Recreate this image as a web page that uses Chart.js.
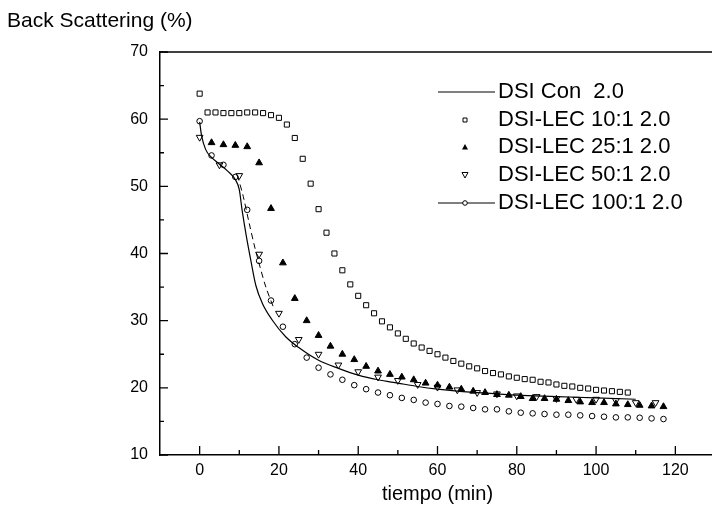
<!DOCTYPE html>
<html>
<head>
<meta charset="utf-8">
<script src="https://cdn.jsdelivr.net/npm/chart.js@4.4.0/dist/chart.umd.min.js"></script>
<style>
  html, body { margin: 0; padding: 0; background: #fff; overflow: hidden; width: 712px; height: 521px; }
  #wrap { position: relative; width: 720px; height: 521px; }
</style>
</head>
<body>
<div id="wrap"><canvas id="chart" width="720" height="521"></canvas></div>
<script>
// DSI Con 2.0 (solid curve)
const conTime = [0, 0.5, 1.5, 3, 5, 7, 9, 10, 10.7, 11.8, 12.9, 14.2, 15.8, 18.3, 21.7, 25, 30, 35, 40, 45, 50, 55, 60, 65, 70, 75, 80, 90, 100, 110];
const conValue = [59.6, 57.5, 55.5, 54.3, 53.3, 52.3, 51.0, 49.5, 46.5, 42.5, 39.0, 35.2, 32.6, 30.1, 27.6, 26.0, 24.1, 22.9, 21.9, 21.2, 20.7, 20.2, 19.8, 19.5, 19.3, 19.1, 18.9, 18.7, 18.5, 18.3];

// DSI-LEC 10:1 2.0
const lec10Time = [0, 2, 4, 6, 8, 10, 12, 14, 16, 18, 20, 22, 24, 26, 28, 30, 32, 34, 36, 38, 40, 42, 44, 46, 48, 50, 52, 54, 56, 58, 60, 62, 64, 66, 68, 70, 72, 74, 76, 78, 80, 82, 84, 86, 88, 90, 92, 94, 96, 98, 100, 102, 104, 106, 108];
const lec10Value = [63.8, 61.0, 61.0, 60.9, 60.9, 60.9, 61.0, 61.0, 60.9, 60.6, 60.2, 59.2, 57.2, 54.1, 50.4, 46.6, 43.1, 40.0, 37.5, 35.4, 33.7, 32.3, 31.1, 29.9, 29.0, 28.1, 27.3, 26.6, 26.0, 25.5, 25.0, 24.5, 24.0, 23.6, 23.2, 22.9, 22.5, 22.2, 22.0, 21.7, 21.5, 21.3, 21.2, 20.9, 20.8, 20.5, 20.3, 20.2, 20.0, 19.9, 19.7, 19.6, 19.5, 19.4, 19.3];

// DSI-LEC 25:1 2.0
const lec25Time = [3, 6, 9, 12, 15, 18, 21, 24, 27, 30, 33, 36, 39, 42, 45, 48, 51, 54, 57, 60, 63, 66, 69, 72, 75, 78, 81, 84, 87, 90, 93, 96, 99, 102, 105, 108, 111, 114, 117];
const lec25Value = [56.5, 56.2, 56.1, 55.9, 53.5, 46.7, 38.6, 33.3, 30.0, 27.8, 26.2, 25.0, 24.2, 23.2, 22.5, 22.0, 21.6, 21.2, 20.7, 20.4, 20.1, 19.8, 19.5, 19.3, 19.0, 18.9, 18.7, 18.4, 18.4, 18.3, 18.1, 17.9, 17.8, 17.8, 17.6, 17.5, 17.4, 17.3, 17.2];

// DSI-LEC 50:1 2.0
const lec50Time = [0, 5, 10, 15, 20, 25, 30, 35, 40, 45, 50, 55, 60, 65, 70, 75, 80, 85, 90, 95, 100, 105, 110, 115];
const lec50Value = [57.3, 53.2, 51.6, 39.9, 31.1, 27.2, 25.0, 23.4, 22.4, 21.6, 21.1, 20.5, 20.1, 19.7, 19.3, 19.1, 18.8, 18.7, 18.4, 18.3, 18.3, 18.1, 17.8, 17.8];

// DSI-LEC 100:1 2.0
const lec100Time = [0, 3, 6, 9, 12, 15, 18, 21, 24, 27, 30, 33, 36, 39, 42, 45, 48, 51, 54, 57, 60, 63, 66, 69, 72, 75, 78, 81, 84, 87, 90, 93, 96, 99, 102, 105, 108, 111, 114, 117];
const lec100Value = [59.7, 54.6, 53.2, 51.4, 46.5, 38.9, 33.0, 29.1, 26.5, 24.5, 23.0, 22.0, 21.2, 20.4, 19.8, 19.3, 18.9, 18.5, 18.2, 17.8, 17.6, 17.3, 17.2, 17.0, 16.8, 16.8, 16.5, 16.3, 16.2, 16.1, 16.0, 16.0, 15.9, 15.8, 15.7, 15.6, 15.6, 15.55, 15.45, 15.35];

// short dashed segment in the drop
const dashTime = [9.5, 11, 12.5, 14, 15, 16.7, 18.75];
const dashValue = [51.7, 48.5, 44.5, 40.7, 38.5, 35.0, 31.8];

const seriesNames = ["DSI Con  2.0", "DSI-LEC 10:1 2.0", "DSI-LEC 25:1 2.0", "DSI-LEC 50:1 2.0", "DSI-LEC 100:1 2.0"];

const xTickLabels = [0, 20, 40, 60, 80, 100, 120];
const xMinorTicks = [10, 30, 50, 70, 90, 110];
const yTickLabels = [10, 20, 30, 40, 50, 60, 70];
const yMinorTicks = [15, 25, 35, 45, 55, 65];

const FONT = "'Liberation Sans', Arial, sans-serif";

function pts(xs, ys) {
  return xs.map((x, i) => ({ x: x, y: ys[i] }));
}

const frameAndLegend = {
  id: "frameAndLegend",
  afterDraw(chart) {
    const { ctx, chartArea: a, scales } = chart;
    const x = scales.x, y = scales.y;
    ctx.save();
    ctx.strokeStyle = "#000";
    ctx.lineWidth = 1.5;
    ctx.beginPath();
    ctx.moveTo(a.left, a.top);
    ctx.lineTo(a.right, a.top);
    ctx.stroke();

    // inward ticks
    ctx.lineWidth = 1.3;
    ctx.beginPath();
    xTickLabels.forEach(v => { const p = x.getPixelForValue(v); ctx.moveTo(p, a.bottom); ctx.lineTo(p, a.bottom - 9); });
    xMinorTicks.forEach(v => { const p = x.getPixelForValue(v); ctx.moveTo(p, a.bottom); ctx.lineTo(p, a.bottom - 5); });
    yTickLabels.forEach(v => { const p = y.getPixelForValue(v); ctx.moveTo(a.left, p); ctx.lineTo(a.left + 8, p); });
    yMinorTicks.forEach(v => { const p = y.getPixelForValue(v); ctx.moveTo(a.left, p); ctx.lineTo(a.left + 4, p); });
    ctx.stroke();

    // titles
    ctx.fillStyle = "#000";
    ctx.font = "21px " + FONT;
    ctx.textBaseline = "middle";
    ctx.textAlign = "left";
    ctx.fillText("Back Scattering (%)", 7, 21);
    ctx.font = "20px " + FONT;
    ctx.textAlign = "center";
    ctx.fillText("tiempo (min)", x.getPixelForValue(60), 494);

    // legend
    const rowY = [92, 120, 147, 175, 203];
    const lineL = 438, lineR = 495, mk = 465, textX = 498;
    ctx.font = "22px " + FONT;
    ctx.textAlign = "left";
    seriesNames.forEach((name, i) => {
      const ry = rowY[i];
      ctx.strokeStyle = "#000";
      ctx.fillStyle = "#000";
      ctx.lineWidth = 1;
      if (i === 0 || i === 4) {
        ctx.beginPath();
        ctx.moveTo(lineL, ry);
        ctx.lineTo(lineR, ry);
        ctx.stroke();
      }
      ctx.beginPath();
      if (i === 1) {
        ctx.rect(mk - 2, ry - 2, 4, 4);
        ctx.stroke();
      } else if (i === 2) {
        ctx.moveTo(mk, ry - 3); ctx.lineTo(mk + 3, ry + 2.5); ctx.lineTo(mk - 3, ry + 2.5); ctx.closePath();
        ctx.fill();
      } else if (i === 3) {
        ctx.moveTo(mk, ry + 3); ctx.lineTo(mk + 3, ry - 2.5); ctx.lineTo(mk - 3, ry - 2.5); ctx.closePath();
        ctx.stroke();
      } else if (i === 4) {
        ctx.arc(mk, ry, 2.3, 0, Math.PI * 2);
        ctx.fillStyle = "#fff";
        ctx.fill();
        ctx.stroke();
        ctx.fillStyle = "#000";
      }
      ctx.fillText(name, textX, ry);
    });
    ctx.restore();
  }
};

const ctx = document.getElementById("chart").getContext("2d");
new Chart(ctx, {
  type: "scatter",
  data: {
    datasets: [
      {
        label: seriesNames[0],
        data: pts(conTime, conValue),
        showLine: true,
        cubicInterpolationMode: "monotone",
        borderColor: "#000",
        borderWidth: 1.2,
        pointRadius: 0,
      },
      {
        label: "dashed",
        data: pts(dashTime, dashValue),
        showLine: true,
        tension: 0.3,
        borderColor: "#000",
        borderWidth: 1,
        borderDash: [6, 4],
        pointRadius: 0,
      },
      {
        label: seriesNames[1],
        data: pts(lec10Time, lec10Value),
        pointStyle: "rect",
        pointRadius: 3.6,
        borderColor: "#000",
        backgroundColor: "rgba(0,0,0,0)",
        pointBorderWidth: 1,
      },
      {
        label: seriesNames[2],
        data: pts(lec25Time, lec25Value),
        pointStyle: "triangle",
        pointRadius: 3.9,
        borderColor: "#000",
        backgroundColor: "#000",
        pointBorderWidth: 1,
      },
      {
        label: seriesNames[3],
        data: pts(lec50Time, lec50Value),
        pointStyle: "triangle",
        rotation: 180,
        pointRadius: 3.9,
        borderColor: "#000",
        backgroundColor: "rgba(0,0,0,0)",
        pointBorderWidth: 1,
      },
      {
        label: seriesNames[4],
        data: pts(lec100Time, lec100Value),
        pointStyle: "circle",
        pointRadius: 2.8,
        borderColor: "#000",
        backgroundColor: "rgba(0,0,0,0)",
        pointBorderWidth: 1,
      },
    ],
  },
  options: {
    responsive: false,
    animation: false,
    layout: { padding: { top: 52, left: 0, right: 0, bottom: 0 } },
    plugins: { legend: { display: false }, tooltip: { enabled: false } },
    scales: {
      x: {
        type: "linear",
        min: -10,
        max: 130,
        afterFit(s) { s.height = 66; },
        afterBuildTicks(s) { s.ticks = xTickLabels.map(v => ({ value: v })); },
        ticks: { color: "#000", font: { family: FONT, size: 16 }, padding: 6, maxRotation: 0, autoSkip: false },
        grid: { display: false, drawTicks: false },
        border: { color: "#000", width: 1.5 },
      },
      y: {
        min: 10,
        max: 70,
        afterFit(s) { s.width = 160; },
        afterBuildTicks(s) { s.ticks = yTickLabels.map(v => ({ value: v })); },
        ticks: { color: "#000", font: { family: FONT, size: 16 }, padding: 12, autoSkip: false },
        grid: { display: false, drawTicks: false },
        border: { color: "#000", width: 1.5 },
      },
    },
  },
  plugins: [frameAndLegend],
});
</script>
</body>
</html>
